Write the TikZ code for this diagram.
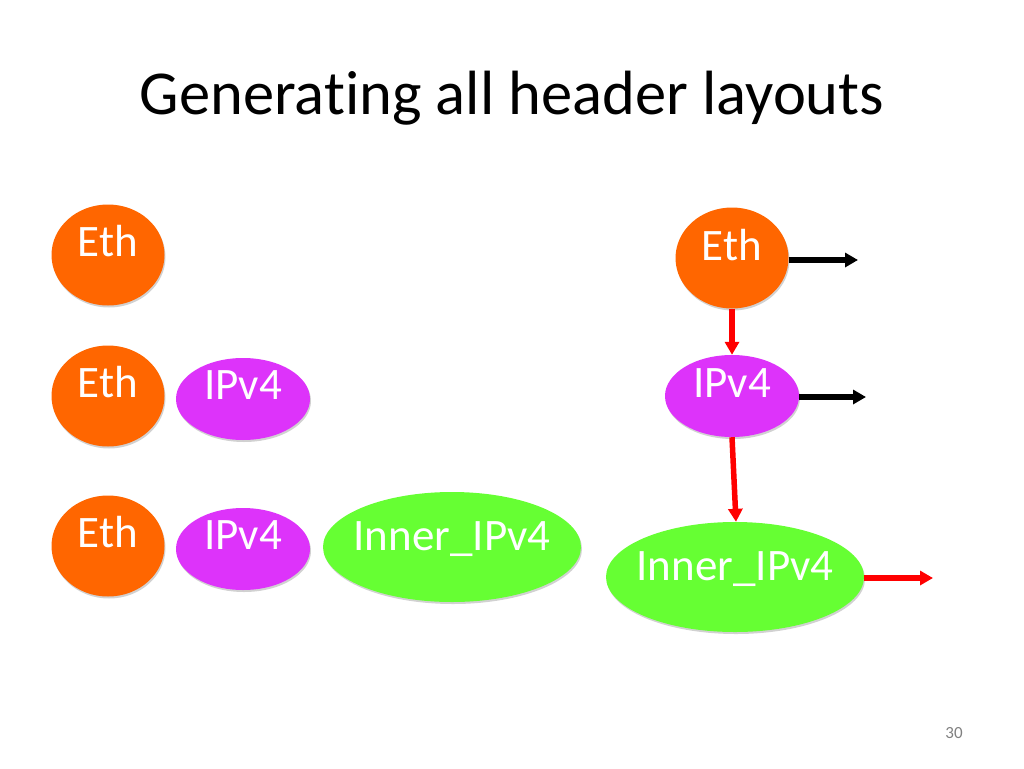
\documentclass[tikz,border=0pt]{standalone}
\usepackage{fontspec}
\setmainfont{Carlito}[Ligatures=NoCommon]
\usetikzlibrary{shapes.geometric}
\usetikzlibrary{shadows}
\usetikzlibrary{arrows.meta}
\definecolor{ethcol}{RGB}{255,102,0}
\definecolor{ipcol}{RGB}{221,51,250}
\definecolor{innercol}{RGB}{102,255,51}
\definecolor{pagecol}{RGB}{128,128,128}

\begin{document}
\begin{tikzpicture}[x=1pt, y=-1pt,
    hdr/.style={ellipse, inner sep=0pt, draw=none,
      drop shadow={shadow xshift=1pt, shadow yshift=-2pt, opacity=0.18, fill=black}},
    eth/.style={hdr, fill=ethcol, minimum width=113pt, minimum height=101pt},
    ip/.style={hdr, fill=ipcol, minimum width=134pt, minimum height=82pt},
    inner/.style={hdr, fill=innercol, minimum width=258pt, minimum height=110pt},
    lbl/.style={text=white, font=\fontsize{45}{45}\selectfont, inner sep=0pt},
    blk/.style={draw=black, line width=5.5pt, -{Triangle[length=13pt, width=14pt]}},
    red/.style={draw=red, line width=5.5pt, -{Triangle[length=13pt, width=14pt]}}]
  \useasboundingbox (0,0) rectangle (1024,768);

  \node (title) at (512,98) {\fontsize{62.5}{62.5}\selectfont Generating all header layouts};

  \node[eth] (eth1) at (108,255) {};
  \node[lbl] at ([yshift=14pt]eth1.center) {Eth};

  \node[eth] (eth2) at (108,396) {};
  \node[lbl] at ([yshift=14pt]eth2.center) {Eth};
  \node[ip] (ip2) at (243,399) {};
  \node[lbl] at ([yshift=14pt]ip2.center) {IPv4};

  \node[eth] (eth3) at (108,546) {};
  \node[lbl] at ([yshift=14pt]eth3.center) {Eth};
  \node[ip] (ip3) at (243,549) {};
  \node[lbl] at ([yshift=14pt]ip3.center) {IPv4};
  \node[inner] (in3) at (452,547) {};
  \node[lbl] at ([yshift=8pt]in3.center) {Inner\_IPv4};

  \node[eth] (ethr) at (732,258) {};
  \node[lbl] at ([yshift=13pt]ethr.center) {Eth};
  \node[ip] (ipr) at (732,396) {};
  \node[lbl] at ([yshift=13pt]ipr.center) {IPv4};
  \node[inner] (inr) at (735,577) {};
  \node[lbl] at ([yshift=8pt]inr.center) {Inner\_IPv4};

  \coordinate (ethout) at (858,260);
  \coordinate (ipout) at (866,397);
  \coordinate (inout) at (933,578);

  \draw[blk] (ethr.east |- ethout) -- (ethout);
  \draw[blk] (ipr.east |- ipout) -- (ipout);
  \draw[red] (inr.east |- inout) -- (inout);
  \draw[red] (ethr.south) -- (ipr.north);
  \draw[red] (ipr.south) -- ([xshift=1pt]inr.north);

  \node[text=pagecol, font=\fontsize{17}{17}\selectfont] (page) at (954,733) {30};
\end{tikzpicture}
\end{document}
